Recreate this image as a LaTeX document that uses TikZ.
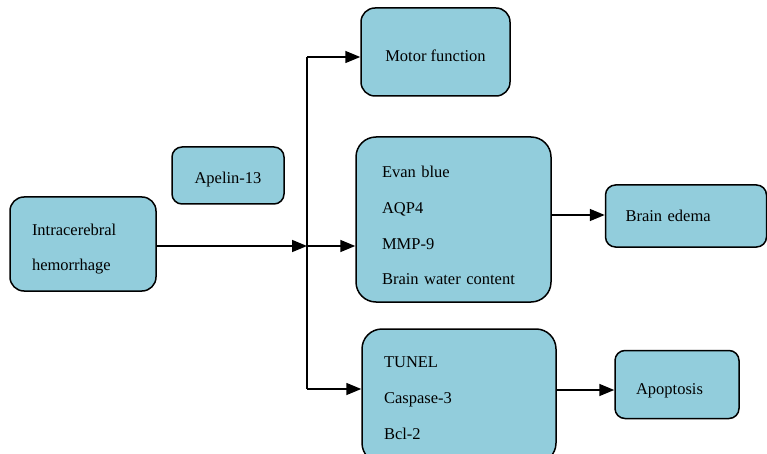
\documentclass[tikz,border=0pt]{standalone}
\usepackage{fontspec}
\setmainfont{Liberation Serif}
\usetikzlibrary{arrows.meta}
\definecolor{boxblue}{RGB}{146,205,220}
\tikzset{
  box/.style={draw=black, fill=boxblue, line width=1.5pt, rounded corners=14pt,
    font=\fontsize{16.5}{35.7}\selectfont, inner sep=0pt},
  conn/.style={line width=1.5pt, -{Triangle[length=15pt,width=12pt]}},
  plain/.style={line width=1.5pt}
}
\begin{document}
\begin{tikzpicture}[x=1pt,y=-1pt]
\useasboundingbox (0,0) rectangle (767,454);
\node[box, minimum width=146pt, minimum height=94pt, text width=102pt, align=left] (ich) at (83,244) {\rule{0pt}{21.5pt}Intracerebral\\hemorrhage};
\node[box, rounded corners=10pt, minimum width=112pt, minimum height=57pt, align=center] (apelin) at (228,175.5) {\rule{0pt}{19.5pt}Apelin-13};
\node[box, minimum width=149pt, minimum height=88pt, align=center] (motor) at (435.5,52) {\rule{0pt}{19.5pt}Motor function};
\node[box, rounded corners=20pt, minimum width=195pt, minimum height=165pt, text width=143pt, align=left] (mid) at (453.5,219.5) {\rule{0pt}{23.5pt}Evan blue\\AQP4\\MMP-9\\Brain water content};
\node[box, rounded corners=10pt, minimum width=161pt, minimum height=62pt, text width=121pt, align=left] (edema) at (686,216) {Brain edema};
\node[box, rounded corners=20pt, minimum width=194pt, minimum height=134pt, text width=150pt, align=left] (bot) at (459,396) {\rule{0pt}{15.5pt}TUNEL\\Caspase-3\\Bcl-2};
\node[box, rounded corners=10pt, minimum width=124pt, minimum height=68pt, text width=82pt, align=left] (apo) at (677,384.5) {\rule{0pt}{23.5pt}Apoptosis};
\coordinate (j) at (307,246);
\coordinate (jt) at (307,57);
\coordinate (jb) at (307,389);
\coordinate (ab) at (0,390);
\coordinate (ae) at (0,215);
\draw[conn] (ich.east |- j) -- (j);
\draw[plain] (jt) -- (jb);
\draw[conn] (jt) -- (jt -| motor.west);
\draw[conn] (j) -- (j -| mid.west);
\draw[conn] (jb) -- (jb -| bot.west);
\draw[conn] (mid.east |- ae) -- (edema.west |- ae);
\draw[conn] (bot.east |- ab) -- (apo.west |- ab);
\end{tikzpicture}
\end{document}
